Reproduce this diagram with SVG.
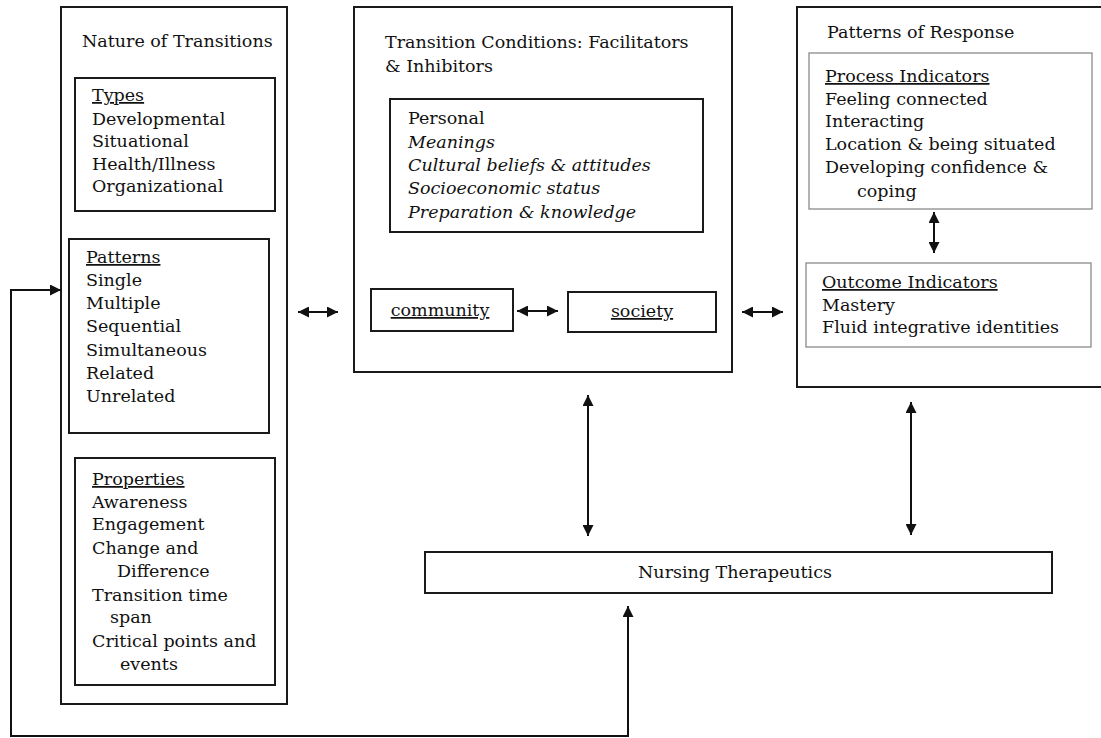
<svg xmlns="http://www.w3.org/2000/svg" width="1101" height="738" viewBox="0 0 1101 738">
<style>
text{font-family:"DejaVu Serif","Liberation Serif",serif;font-size:17.5px;fill:#111}
.box{fill:#fff;stroke:#1a1a1a;stroke-width:2}
.lbox{fill:#fff;stroke:#8a8a8a;stroke-width:1.3}
.u{text-decoration:underline}
.i{font-style:italic}
.c{fill:none;stroke:#111;stroke-width:2}
</style>
<defs>
<marker id="ah" viewBox="0 0 10 10" refX="10" refY="5" markerWidth="11" markerHeight="11" markerUnits="userSpaceOnUse" orient="auto-start-reverse">
<path d="M0,0 L10,5 L0,10 z" fill="#111"/>
</marker>
</defs>
<rect width="1101" height="738" fill="#fff"/>

<g id="nature">
<rect class="box" x="61" y="7" width="226" height="697"/>
<text x="82" y="47">Nature of Transitions</text>
</g>
<g id="types">
<rect class="box" x="75" y="78" width="200" height="133"/>
<text x="92" y="101" class="u">Types</text>
<text x="92" y="125">Developmental</text>
<text x="92" y="147">Situational</text>
<text x="92" y="170">Health/Illness</text>
<text x="92" y="192">Organizational</text>
</g>
<g id="patterns">
<rect class="box" x="69" y="239" width="200" height="194"/>
<text x="86" y="263" class="u">Patterns</text>
<text x="86" y="286">Single</text>
<text x="86" y="309">Multiple</text>
<text x="86" y="332">Sequential</text>
<text x="86" y="356">Simultaneous</text>
<text x="86" y="379">Related</text>
<text x="86" y="402">Unrelated</text>
</g>
<g id="properties">
<rect class="box" x="75" y="458" width="200" height="227"/>
<text x="92" y="485" class="u">Properties</text>
<text x="92" y="508">Awareness</text>
<text x="92" y="530">Engagement</text>
<text x="92" y="554">Change and</text>
<text x="117" y="577">Difference</text>
<text x="92" y="601">Transition time</text>
<text x="110" y="623">span</text>
<text x="92" y="647">Critical points and</text>
<text x="120" y="670">events</text>
</g>

<g id="conditions">
<rect class="box" x="354" y="7" width="378" height="365"/>
<text x="385" y="48">Transition Conditions: Facilitators</text>
<text x="385" y="72">&amp; Inhibitors</text>
</g>
<g id="personal">
<rect class="box" x="390" y="99" width="313" height="133"/>
<text x="408" y="124">Personal</text>
<text x="408" y="148" class="i">Meanings</text>
<text x="408" y="171" class="i">Cultural beliefs &amp; attitudes</text>
<text x="408" y="194" class="i">Socioeconomic status</text>
<text x="408" y="218" class="i">Preparation &amp; knowledge</text>
</g>
<g id="community">
<rect class="box" x="371" y="289" width="142" height="42"/>
<text x="440" y="316" text-anchor="middle" class="u">community</text>
</g>
<g id="society">
<rect class="box" x="568" y="292" width="148" height="40"/>
<text x="642" y="317" text-anchor="middle" class="u">society</text>
</g>

<g id="response">
<rect class="box" x="797" y="7" width="310" height="380"/>
<text x="827" y="38">Patterns of Response</text>
</g>
<g id="process">
<rect class="lbox" x="809" y="53" width="283" height="156"/>
<text x="825" y="82" class="u">Process Indicators</text>
<text x="825" y="105">Feeling connected</text>
<text x="825" y="127">Interacting</text>
<text x="825" y="150">Location &amp; being situated</text>
<text x="825" y="173">Developing confidence &amp;</text>
<text x="857" y="197">coping</text>
</g>
<g id="outcome">
<rect class="lbox" x="806" y="263" width="285" height="84"/>
<text x="822" y="288" class="u">Outcome Indicators</text>
<text x="822" y="311">Mastery</text>
<text x="822" y="333">Fluid integrative identities</text>
</g>

<g id="nursing">
<rect class="box" x="425" y="552" width="627" height="41"/>
<text x="735" y="578" text-anchor="middle">Nursing Therapeutics</text>
</g>

<g id="connectors">
<line class="c" x1="298" y1="312" x2="338" y2="312" marker-start="url(#ah)" marker-end="url(#ah)"/>
<line class="c" x1="517" y1="311" x2="558" y2="311" marker-start="url(#ah)" marker-end="url(#ah)"/>
<line class="c" x1="742" y1="312" x2="783" y2="312" marker-start="url(#ah)" marker-end="url(#ah)"/>
<line class="c" x1="934" y1="212" x2="934" y2="253" marker-start="url(#ah)" marker-end="url(#ah)"/>
<line class="c" x1="588" y1="395" x2="588" y2="536" marker-start="url(#ah)" marker-end="url(#ah)"/>
<line class="c" x1="911" y1="402" x2="911" y2="535" marker-start="url(#ah)" marker-end="url(#ah)"/>
<polyline class="c" points="628,606 628,736 11,736 11,290 61,290" marker-start="url(#ah)" marker-end="url(#ah)"/>
</g>
</svg>
